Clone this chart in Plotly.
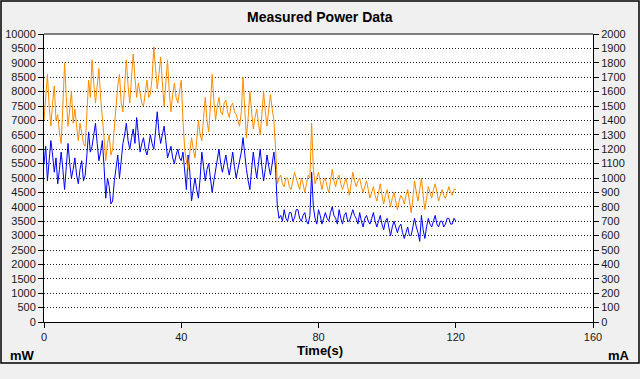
import plotly.graph_objects as go

# sample times: every 0.5 s from 0 to 120 s
time_s = [i * 0.5 for i in range(241)]

power_mw = [
    5500, 6100, 4900, 5600, 6300, 5800, 5200, 5700, 4800, 5300,
    5900, 5300, 4600, 5400, 6200, 5500, 5000, 5300, 5700, 5100,
    4800, 5300, 5600, 4900, 5100, 5800, 6600, 5900, 6100, 6500,
    6900, 6200, 5600, 5900, 6300, 5400, 4300, 5000, 4700, 4100,
    4200, 4900, 5400, 5800, 5000, 5600, 6200, 6500, 6900, 6300,
    6000, 6400, 6700, 6200, 7100, 6500, 5900, 6200, 6400, 6000,
    5800, 6100, 6500, 6200, 6000, 6600, 7300, 6600, 6200, 6500,
    6800, 6300, 5700, 5900, 6100, 5700, 5500, 5800, 6000, 5700,
    5600, 5900, 5100, 4600, 5800, 5200, 4200, 4600, 5000, 4600,
    4300, 5000, 5900, 5400, 4900, 5300, 5500, 5000, 4500, 4900,
    5300, 5700, 6000, 5500, 5200, 5500, 5800, 5400, 5100, 5500,
    5900, 5400, 5000, 5300, 5600, 5900, 6400, 5800, 5300, 4900,
    4600, 5300, 5900, 5400, 5000, 5500, 6000, 5400, 4900, 5300,
    5800, 5400, 5100, 5500, 5900, 5300, 4000, 3600, 3700, 3500,
    3900, 3600, 3500, 3800, 3800, 3500, 3600, 3900, 3900, 3600,
    3500, 3700, 3800, 3500, 3400, 3700, 5200, 4000, 3600, 3400,
    3900, 3700, 3400, 3600, 3800, 3600, 3500, 3800, 4000, 3700,
    3600, 3400, 3900, 3600, 3400, 3700, 3800, 3500, 3500, 3700,
    3900, 3700, 3600, 3400, 3800, 3500, 3300, 3600, 3700, 3500,
    3400, 3600, 3800, 3500, 3300, 3500, 3700, 3400, 3200, 3500,
    3600, 3300, 3000, 3300, 3500, 3300, 3100, 3300, 3400, 3100,
    2900, 3100, 3300, 3000, 3000, 3300, 3600, 3300, 3100, 2800,
    3700, 3200, 2900, 3300, 3600, 3400, 3300, 3500, 3700, 3400,
    3300, 3500, 3500, 3300, 3400, 3600, 3600, 3400, 3400, 3600,
    3500,
]

current_ma = [
    1400, 1560, 1720, 1500, 1360, 1520, 1640, 1400, 1440, 1320,
    1240, 1500, 1800, 1560, 1360, 1480, 1600, 1380, 1480, 1360,
    1260, 1380, 1320, 1240, 1220, 1440, 1680, 1560, 1820, 1660,
    1520, 1640, 1760, 1560, 1440, 1280, 1120, 1240, 1300, 1160,
    1200, 1380, 1500, 1640, 1720, 1520, 1460, 1640, 1820, 1640,
    1520, 1700, 1860, 1700, 1560, 1660, 1600, 1520, 1500, 1600,
    1680, 1560, 1580, 1700, 1910, 1760, 1620, 1720, 1840, 1660,
    1500, 1660, 1820, 1600, 1460, 1580, 1660, 1560, 1520, 1600,
    1680, 1400, 1200, 1120, 1060, 1180, 1280, 1200, 1140, 1260,
    1400, 1300, 1260, 1420, 1560, 1400, 1320, 1500, 1720, 1540,
    1400, 1500, 1560, 1460, 1440, 1520, 1540, 1460, 1420, 1500,
    1520, 1460, 1440, 1400, 1360, 1460, 1700, 1480, 1280, 1420,
    1600, 1460, 1340, 1420, 1480, 1380, 1300, 1440, 1600, 1460,
    1360, 1480, 1580, 1480, 1400, 1200, 960, 1000, 1020, 960,
    940, 1000, 1000, 940, 920, 980, 1040, 1000, 960, 920,
    1000, 960, 900, 960, 1020, 1000, 1380, 1060, 960, 1000,
    1040, 980, 920, 980, 1000, 940, 900, 980, 1060, 980,
    940, 1000, 1020, 960, 920, 960, 1000, 940, 880, 960,
    1040, 980, 940, 980, 1000, 940, 900, 940, 980, 920,
    860, 900, 940, 880, 840, 900, 960, 880, 820, 880,
    920, 860, 800, 860, 900, 840, 780, 840, 880, 860,
    820, 880, 920, 840, 760, 860, 980, 900, 840, 920,
    1000, 880, 780, 860, 940, 900, 860, 920, 960, 900,
    840, 880, 920, 880, 860, 900, 940, 900, 880, 920,
    920,
]

x_ticks = [0, 40, 80, 120, 160]

FONT = "Liberation Sans, Arial, sans-serif"

fig = go.Figure()
fig.add_trace(go.Scatter(
    x=time_s, y=current_ma, yaxis="y2", mode="lines",
    line=dict(color="#FF8C00", width=1), name="Current (mA)",
))
fig.add_trace(go.Scatter(
    x=time_s, y=power_mw, mode="lines",
    line=dict(color="#0000FF", width=1), name="Power (mW)",
))

# pixel helpers for paper coords (plot area: x 44..593, y 34..322)
def px(x):
    return (x - 44) / 549.0

def py(y):
    return (322 - y) / 288.0

fig.update_layout(
    width=640, height=379,
    margin=dict(l=44, r=47, t=34, b=57, autoexpand=False),
    paper_bgcolor="#f0f0f0",
    plot_bgcolor="#ffffff",
    showlegend=False,
    font=dict(family=FONT, size=11, color="#1a1a1a"),
    xaxis=dict(
        range=[0, 160], tickvals=x_ticks, showgrid=False, zeroline=False,
        showline=True, linecolor="#000000", linewidth=1, automargin=False,
        ticks="outside", ticklen=5, tickcolor="#000000",
        tickfont=dict(size=11), tickformat="d",
    ),
    yaxis=dict(
        range=[0, 10000], dtick=500, tick0=0, zeroline=False, automargin=False,
        showgrid=True, gridcolor="#222222", griddash="1px,2px", gridwidth=1,
        showline=True, linecolor="#000000", linewidth=1,
        ticks="outside", ticklen=5, tickcolor="#000000",
        tickfont=dict(size=11), tickformat="d",
    ),
    yaxis2=dict(
        range=[0, 2000], dtick=100, tick0=0, overlaying="y", side="right",
        showgrid=False, zeroline=False, automargin=False,
        showline=True, linecolor="#000000", linewidth=1,
        ticks="outside", ticklen=5, tickcolor="#000000",
        tickfont=dict(size=11), tickformat="d",
    ),
    shapes=[
        dict(type="line", xref="paper", yref="paper", x0=0, x1=1, y0=1, y1=1,
             line=dict(color="#808080", width=2)),
        dict(type="rect", xref="paper", yref="paper",
             x0=px(1), x1=px(639), y0=py(363), y1=py(1),
             line=dict(color="#000000", width=1.5), layer="below"),
    ],
    annotations=[
        dict(text="<b>Measured Power Data</b>", xref="paper", yref="paper",
             x=px(320), y=py(17), showarrow=False,
             font=dict(size=14, color="#000000"), xanchor="center", yanchor="middle"),
        dict(text="<b>Time(s)</b>", xref="paper", yref="paper",
             x=px(320), y=py(350), showarrow=False,
             font=dict(size=13, color="#000000"), xanchor="center", yanchor="middle"),
        dict(text="<b>mW</b>", xref="paper", yref="paper",
             x=px(8), y=py(355), showarrow=False,
             font=dict(size=13, color="#000000"), xanchor="left", yanchor="middle"),
        dict(text="<b>mA</b>", xref="paper", yref="paper",
             x=px(632), y=py(355), showarrow=False,
             font=dict(size=13, color="#000000"), xanchor="right", yanchor="middle"),
    ],
)

fig.write_html(
    "out.html",
    config={"displayModeBar": False},
    post_script="document.body.style.margin='0';document.body.style.padding='0';",
)
